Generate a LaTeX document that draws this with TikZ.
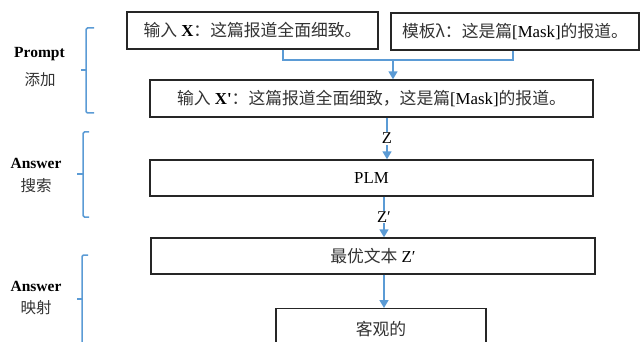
\documentclass[tikz,border=0pt]{standalone}
\usepackage{fontspec}
\setmainfont{Liberation Serif}
\newfontfamily\cjk{Noto Sans CJK SC}
\usetikzlibrary{arrows.meta,calc}
\definecolor{lblue}{HTML}{5B9BD5}
\newcommand{\zh}[1]{{\cjk\color{black!80}#1}}
\begin{document}
\begin{tikzpicture}[x=1pt,y=-1pt,
  box/.style={draw=black!85,line width=1.4pt,inner sep=0pt,font=\fontsize{16.8}{19}\selectfont},
  flow/.style={lblue,line width=1.5pt},
  arr/.style={flow,-{Triangle[width=9pt,length=8pt]}},
  brace/.style={lblue,line width=1.5pt,rounded corners=1.5pt},
  side/.style={font=\fontsize{15.5}{18}\selectfont,inner sep=0pt},
  alabel/.style={fill=white,inner sep=1pt,text=black,font=\fontsize{16.5}{19}\selectfont}]
\useasboundingbox (0,0) rectangle (640,342);
% boxes
\node[box,minimum width=251pt,minimum height=37pt] (b1) at (252.5,30.5) {\zh{输入} \textbf{X}\zh{：这篇报道全面细致。}};
\node[box,minimum width=248pt,minimum height=37pt] (b2) at (515,31.5) {\zh{模板λ：这是篇}[Mask]\zh{的报道。}};
\node[box,minimum width=443pt,minimum height=37pt] (b3) at (371.5,98.5) {\zh{输入} \textbf{X\textquotesingle}\zh{：这篇报道全面细致，这是篇}[Mask]\zh{的报道。}};
\node[box,minimum width=443pt,minimum height=36pt] (b4) at (371.5,178) {PLM};
\node[box,minimum width=444pt,minimum height=36pt] (b5) at (373,256) {\zh{最优文本} Z′};
\node[box,minimum width=210pt,minimum height=40pt,anchor=north] (b6) at (381,308) {\zh{客观的}};
% connectors
\coordinate (m) at (393,60);
\draw[flow] ([xshift=30.5pt]b1.south) |- (m) -| ([xshift=-2pt]b2.south);
\draw[arr] (m) -- (m |- b3.north);
\draw[arr] ([xshift=15.5pt]b3.south) -- node[alabel] {Z} ([xshift=15.5pt]b4.north);
\draw[arr] ([xshift=12.5pt]b4.south) -- node[alabel] {Z′} ([xshift=11pt]b5.north);
\draw[arr] ([xshift=11pt]b5.south) -- ([xshift=11pt]b5.south |- b6.north);
% braces
\draw[brace] (94,28) -- (86,28) -- (86,113) -- (94,113);
\draw[lblue,line width=1.5pt] (86,70) -- (81,70);
\draw[brace] (89,132) -- (83,132) -- (83,217) -- (89,217);
\draw[lblue,line width=1.5pt] (83,174) -- (77,174);
\draw[brace] (88,255) -- (82,255) -- (82,380);
\draw[lblue,line width=1.5pt] (82,299) -- (77,299);
% side labels
\node[side] (p1) at (39.5,54) {\textbf{Prompt}};
\node[side] (p2) at (40,80) {\zh{添加}};
\node[side] (a1) at (36,163) {\textbf{Answer}};
\node[side] (a2) at (36,186) {\zh{搜索}};
\node[side] (c1) at (36,286) {\textbf{Answer}};
\node[side] (c2) at (36,308) {\zh{映射}};
\end{tikzpicture}
\end{document}
